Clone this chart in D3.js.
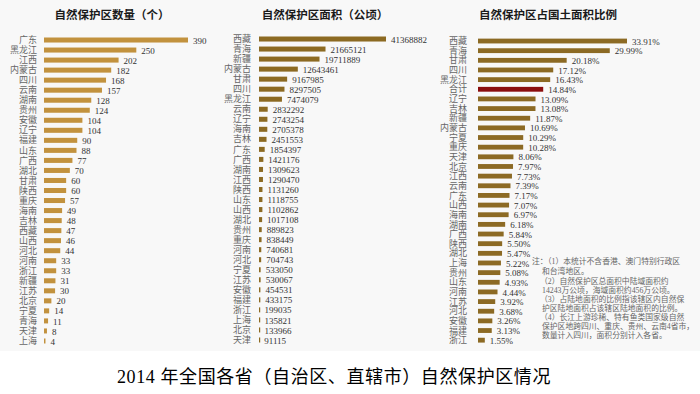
<!DOCTYPE html>
<html>
<head>
<meta charset="utf-8">
<title>2014 自然保护区</title>
<script src="https://cdn.jsdelivr.net/npm/d3@7/dist/d3.min.js"></script>
<style>
  body { margin: 0; background: #fff; }
  text { font-family: "Liberation Serif", "Noto Sans CJK SC", serif; }
</style>
</head>
<body>
<script>
// 自然保护区数量（个）
var countNames = ['广东','黑龙江','江西','内蒙古','四川','云南','湖南','贵州','安徽','辽宁','福建','山东','广西','湖北','甘肃','陕西','重庆','海南','吉林','西藏','山西','河北','河南','浙江','新疆','江苏','北京','宁夏','青海','天津','上海'];
var countValues = [390,250,202,182,168,157,128,124,104,104,90,88,77,70,60,60,57,49,48,47,46,44,33,33,31,30,20,14,11,8,4];

// 自然保护区面积（公顷）
var areaNames = ['西藏','青海','新疆','内蒙古','甘肃','四川','黑龙江','云南','辽宁','海南','吉林','广东','广西','湖南','江西','陕西','山东','山西','湖北','贵州','重庆','河南','河北','宁夏','江苏','安徽','福建','浙江','上海','北京','天津'];
var areaValues = [41368882,21665121,19711889,12643461,9167985,8297505,7474079,2832292,2743254,2705378,2451553,1854397,1421176,1309623,1290470,1131260,1118755,1102862,1017108,889823,838449,740681,704743,533050,530067,454531,433175,199035,135821,133966,91115];

// 自然保护区占国土面积比例（%）
var ratioNames = ['西藏','青海','甘肃','四川','黑龙江','合计','辽宁','吉林','新疆','内蒙古','宁夏','重庆','天津','北京','江西','云南','广东','山西','海南','湖南','广西','陕西','湖北','上海','贵州','山东','河南','江苏','河北','安徽','福建','浙江'];
var ratioValues = [33.91,29.99,20.18,17.12,16.43,14.84,13.09,13.08,11.87,10.69,10.29,10.28,8.06,7.97,7.73,7.39,7.17,7.07,6.97,6.18,5.84,5.50,5.47,5.22,5.08,4.93,4.44,3.92,3.68,3.26,3.13,1.55];

var notes = [
    ['注：（1）本统计不含香港、澳门特别行政区', 532],
    ['和台湾地区。', 542],
    ['（2）自然保护区总面积中陆域面积约', 540],
    ['14243万公顷，海域面积约456万公顷。', 542],
    ['（3）占陆地面积的比例指该辖区内自然保', 540],
    ['护区陆地面积占该辖区陆地面积的比例。', 542],
    ['（4）长江上游珍稀、特有鱼类国家级自然', 540],
    ['保护区地跨四川、重庆、贵州、云南4省市，', 542],
    ['数量计入四川，面积分别计入各省。', 542]
];
var noteY = [264, 274, 284, 293, 302, 311, 320, 329, 338];

var W = 700, H = 394;
var svg = d3.select('body').append('svg')
    .attr('width', W)
    .attr('height', H);

svg.append('rect')
    .attr('width', W).attr('height', 351)
    .attr('fill', '#f8f8f8');

function panel(opt) {
    var y = d3.scaleBand()
        .domain(opt.names)
        .range(opt.yRange)
        .paddingInner(0.5)
        .paddingOuter(0.25);
    var x = d3.scaleLinear()
        .domain([0, d3.max(opt.values)])
        .range([opt.x0, opt.x1]);
    var rows = opt.names.map(function(n, i) { return {name: n, value: opt.values[i]}; });

    var g = svg.append('g');

    g.append('text')
        .attr('x', opt.titleX).attr('y', 19)
        .attr('text-anchor', 'middle')
        .style('font-family', '"Noto Sans CJK SC", sans-serif')
        .style('font-weight', 'bold')
        .style('font-size', '11.5px')
        .attr('fill', '#1a1a1a')
        .text(opt.title);

    g.selectAll('rect.bar')
        .data(rows)
        .enter().append('rect')
        .attr('class', 'bar')
        .attr('x', x(0))
        .attr('y', function(d) { return y(d.name); })
        .attr('width', function(d) { return Math.max(1.2, x(d.value) - x(0)); })
        .attr('height', y.bandwidth())
        .attr('fill', function(d) { return d.name === '合计' ? '#8b0d0d' : opt.color; });

    g.selectAll('text.cat')
        .data(rows)
        .enter().append('text')
        .attr('class', 'cat')
        .attr('x', opt.labelX)
        .attr('y', function(d) { return y(d.name) + y.bandwidth() / 2; })
        .attr('dy', '0.35em')
        .attr('text-anchor', 'end')
        .style('font-size', '9px')
        .attr('fill', '#666')
        .text(function(d) { return d.name; });

    g.selectAll('text.val')
        .data(rows)
        .enter().append('text')
        .attr('class', 'val')
        .attr('x', function(d) { return x(d.value) + 5; })
        .attr('y', function(d) { return y(d.name) + y.bandwidth() / 2; })
        .attr('dy', '0.4em')
        .style('font-size', '9px')
        .attr('fill', '#333')
        .text(function(d) { return opt.fmt(d.value); });
}

panel({
    names: countNames, values: countValues,
    title: '自然保护区数量（个）', titleX: 112,
    x0: 44, x1: 188, labelX: 37, yRange: [35, 346],
    color: '#c2923e', fmt: function(v) { return v; }
});

panel({
    names: areaNames, values: areaValues,
    title: '自然保护区面积（公顷）', titleX: 325,
    x0: 259, x1: 386, labelX: 251, yRange: [34, 345],
    color: '#8c6a22', fmt: function(v) { return v; }
});

panel({
    names: ratioNames, values: ratioValues,
    title: '自然保护区占国土面积比例', titleX: 548,
    x0: 478, x1: 627, labelX: 467, yRange: [36.2, 345],
    color: '#8c6a24', fmt: function(v) { return v.toFixed(2) + '%'; }
});

// 注释
svg.selectAll('text.note')
    .data(notes)
    .enter().append('text')
    .attr('class', 'note')
    .attr('x', function(d) { return d[1]; })
    .attr('y', function(d, i) { return noteY[i]; })
    .style('font-size', '7.8px')
    .attr('fill', '#666')
    .text(function(d) { return d[0]; });

// 总标题
svg.append('text')
    .attr('x', 334).attr('y', 383)
    .attr('text-anchor', 'middle')
    .style('font-size', '18px')
    .style('letter-spacing', '0.6px')
    .attr('fill', '#000')
    .text('2014 年全国各省（自治区、直辖市）自然保护区情况');
</script>
</body>
</html>
